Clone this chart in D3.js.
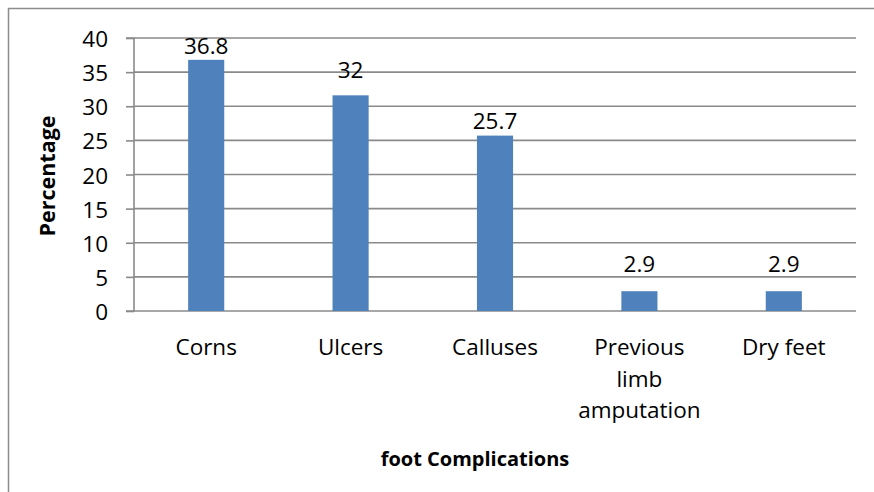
<!DOCTYPE html>
<html>
<head>
<meta charset="utf-8">
<script src="https://cdn.jsdelivr.net/npm/d3@7"></script>
<style>
  html, body { margin: 0; padding: 0; background: #fff; }
  svg { display: block; }
  text { font-family: "Open Sans", "Liberation Sans", sans-serif; fill: #000; }
</style>
</head>
<body>
<svg id="chart" width="874" height="492"></svg>
<script>
const categories = [["Corns"], ["Ulcers"], ["Calluses"], ["Previous", "limb", "amputation"], ["Dry feet"]];
const values = [36.8, 31.6, 25.7, 2.9, 2.9];
const valueLabels = ["36.8", "32", "25.7", "2.9", "2.9"];
const yTicks = [0, 5, 10, 15, 20, 25, 30, 35, 40];
const yTitle = "Percentage";
const xTitle = "foot Complications";

const svg = d3.select("#chart");
const W = 874, H = 492;
const plot = { left: 134, right: 856, top: 38, bottom: 311 };
const FS = 22.5;

// outer border (right and bottom edges run off the picture)
svg.append("rect")
  .attr("x", 8.5).attr("y", 8.5)
  .attr("width", W + 20).attr("height", H + 20)
  .attr("fill", "none").attr("stroke", "#8c8c8c").attr("stroke-width", 1.5);

const x = d3.scaleBand()
  .domain(d3.range(categories.length))
  .range([plot.left, plot.right])
  .padding(0);

const y = d3.scaleLinear().domain([0, 40]).range([plot.bottom, plot.top]);

// gridlines
svg.append("g").selectAll("line").data(yTicks).join("line")
  .attr("x1", plot.left).attr("x2", plot.right)
  .attr("y1", d => y(d)).attr("y2", d => y(d))
  .attr("stroke", "#8a8a8a").attr("stroke-width", 1.6);

// y axis
const yAxis = d3.axisLeft(y).tickValues(yTicks).tickSize(8).tickPadding(18).tickFormat(d3.format("d"));
const gy = svg.append("g").attr("transform", `translate(${plot.left},0)`).call(yAxis);
gy.select(".domain").attr("stroke", "#8a8a8a").attr("stroke-width", 1.6).attr("d", `M-8,${plot.top}H0V${plot.bottom}H-8`);
gy.selectAll(".tick line").attr("stroke", "#8a8a8a").attr("stroke-width", 1.6);
gy.selectAll(".tick text").attr("font-size", FS).attr("fill", "#000").attr("dy", null)
  .attr("dominant-baseline", "central")
  .style("font-family", '"Open Sans", sans-serif');

// bars
const barW = x.bandwidth() * 0.25;
svg.append("g").selectAll("rect").data(values).join("rect")
  .attr("x", (d, i) => x(i) + x.bandwidth() / 2 - barW / 2)
  .attr("width", barW)
  .attr("y", d => y(d))
  .attr("height", d => y(0) - y(d))
  .attr("fill", "#4f81bd");

// value labels (offsets follow the reference's label placement)
const labelOffsets = [14, 26, 15, 28, 28];
svg.append("g").selectAll("text").data(values).join("text")
  .attr("x", (d, i) => x(i) + x.bandwidth() / 2)
  .attr("y", (d, i) => y(d) - labelOffsets[i])
  .attr("text-anchor", "middle")
  .attr("dominant-baseline", "central")
  .attr("font-size", FS)
  .text((d, i) => valueLabels[i]);

// category labels
const catG = svg.append("g");
categories.forEach((lines, i) => {
  const t = catG.append("text")
    .attr("x", x(i) + x.bandwidth() / 2)
    .attr("y", 346)
    .attr("text-anchor", "middle")
    .attr("dominant-baseline", "central")
    .attr("font-size", FS);
  lines.forEach((ln, j) => {
    t.append("tspan").attr("x", x(i) + x.bandwidth() / 2).attr("dy", j === 0 ? 0 : 31.5).text(ln);
  });
});

// axis titles
svg.append("text")
  .attr("transform", `translate(46,176) rotate(-90)`)
  .attr("text-anchor", "middle")
  .attr("dominant-baseline", "central")
  .attr("font-size", 21.5).attr("font-weight", "bold")
  .text(yTitle);

svg.append("text")
  .attr("x", 475).attr("y", 458)
  .attr("text-anchor", "middle")
  .attr("dominant-baseline", "central")
  .attr("font-size", 20).attr("font-weight", "bold")
  .text(xTitle);
</script>
</body>
</html>
